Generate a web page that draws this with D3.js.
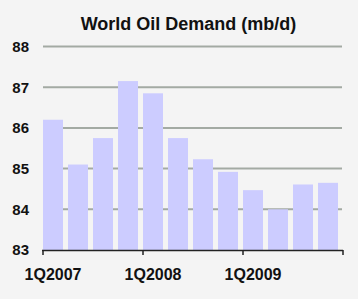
<!DOCTYPE html>
<html><head><meta charset="utf-8">
<script src="https://cdn.jsdelivr.net/npm/d3@7"></script>
<style>body{margin:0;background:#f4f4f4;}svg{display:block;}</style>
</head><body>
<script>
const categories = ["1Q2007","2Q2007","3Q2007","4Q2007","1Q2008","2Q2008","3Q2008","4Q2008","1Q2009","2Q2009","3Q2009","4Q2009"];
const demand = [86.2, 85.1, 85.75, 87.15, 86.85, 85.75, 85.23, 84.92, 84.47, 84.0, 84.61, 84.65];
const yTicks = [83, 84, 85, 86, 87, 88];
const xLabels = ["1Q2007","1Q2008","1Q2009"];
const title = "World Oil Demand (mb/d)";

const W = 358, H = 299;
const svg = d3.select("body").append("svg").attr("width", W).attr("height", H);
svg.append("rect").attr("width", W).attr("height", H).attr("fill", "#f4f4f4");

const x = d3.scaleBand().domain(categories).range([43, 343]).paddingInner(0.2).paddingOuter(0.1).align(0);
const y = d3.scaleLinear().domain([83, 88]).range([250, 46.5]);
const font = "Arial, 'Liberation Sans', sans-serif";

// gridlines
svg.append("g").selectAll("line").data(yTicks.filter(d => d > 83)).join("line")
  .attr("x1", 43).attr("x2", 342).attr("y1", d => y(d)).attr("y2", d => y(d))
  .attr("stroke", "#a3aaa3").attr("stroke-width", 2);

// bars
svg.append("g").selectAll("rect").data(demand).join("rect")
  .attr("x", (d, i) => x(categories[i]))
  .attr("width", x.bandwidth())
  .attr("y", d => y(d))
  .attr("height", d => y(83) - y(d))
  .attr("fill", "#ccccff");

// y labels
svg.append("g").selectAll("text").data(yTicks).join("text")
  .attr("x", 29).attr("y", d => y(d)).attr("dy", "0.36em")
  .attr("text-anchor", "end").attr("font-family", font).attr("font-weight", "bold")
  .attr("font-size", 15).attr("fill", "#111").text(d => d);

// x axis
const ax = svg.append("g");
ax.append("line").attr("x1", 42).attr("x2", 343).attr("y1", 250.5).attr("y2", 250.5)
  .attr("stroke", "#222").attr("stroke-width", 1.5);
const tickIdx = [0, 4, 8, 12];
ax.selectAll("line.t").data(tickIdx).join("line").attr("class", "t")
  .attr("x1", i => 43 + i * x.step()).attr("x2", i => 43 + i * x.step())
  .attr("y1", 250).attr("y2", 255).attr("stroke", "#222").attr("stroke-width", 1.5);
ax.selectAll("text").data(xLabels).join("text")
  .attr("x", d => x(d) + x.bandwidth() / 2).attr("y", 280)
  .attr("text-anchor", "middle").attr("font-family", font).attr("font-weight", "bold")
  .attr("font-size", 16).attr("fill", "#111").text(d => d);

svg.append("text").attr("x", 188.5).attr("y", 29.5).attr("text-anchor", "middle")
  .attr("font-family", font).attr("font-weight", "bold").attr("font-size", 18)
  .attr("fill", "#111").text(title);
</script>
</body></html>
